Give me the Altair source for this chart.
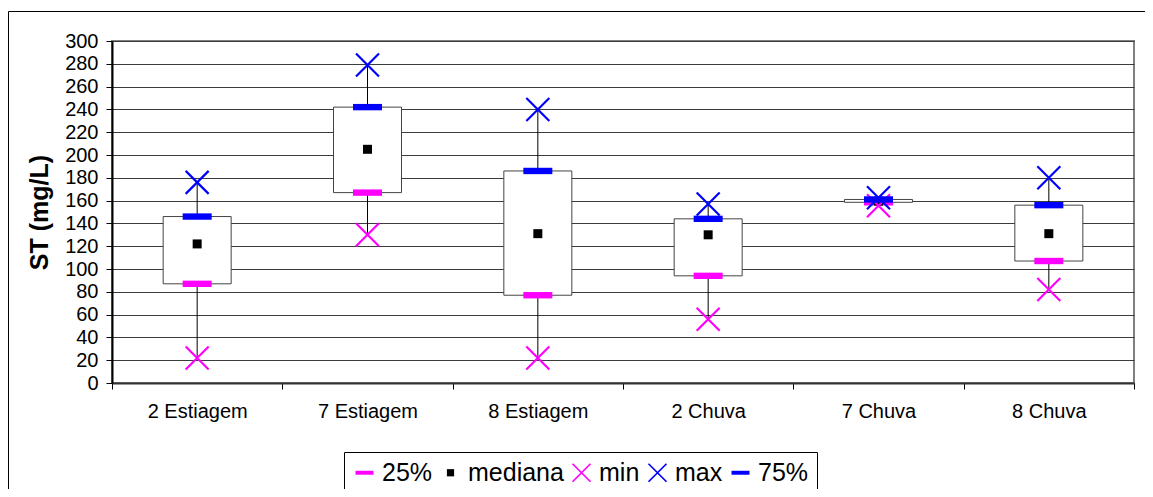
import altair as alt
import pandas as pd

categories = ["2 Estiagem", "7 Estiagem", "8 Estiagem", "2 Chuva", "7 Chuva", "8 Chuva"]
p25 = [87, 167, 77, 94, 158.5, 107]
mediana = [122, 205, 131, 130, 159.5, 131]
vmin = [22, 130, 22, 56, 155.5, 82]
vmax = [176, 279, 240, 157, 162.5, 180]
p75 = [146, 242, 186, 144, 161, 156]
series_names = ["25%", "mediana", "min", "max", "75%"]
y_ticks = [0, 20, 40, 60, 80, 100, 120, 140, 160, 180, 200, 220, 240, 260, 280, 300]

W, H = 1022, 342
FONT = "Liberation Sans"

box_df = pd.DataFrame({"cat": categories, "p25": p25, "p75": p75, "vmin": vmin, "vmax": vmax})

rows = []
for name, vals in zip(series_names, [p25, mediana, vmin, vmax, p75]):
    for c, v in zip(categories, vals):
        rows.append({"cat": c, "series": name, "value": v})
pts_df = pd.DataFrame(rows)

DASH = "M-1,-0.22L1,-0.22L1,0.22L-1,0.22Z"
SQUARE = "M-0.4,-0.4L0.4,-0.4L0.4,0.4L-0.4,0.4Z"
XSHAPE = ("M-0.933,-1.067L1.067,0.933L0.933,1.067L-1.067,-0.933Z"
          "M-0.933,1.067L-1.067,0.933L0.933,-1.067L1.067,-0.933Z")
marker_sizes = {"25%": 841, "mediana": 506, "min": 529, "max": 529, "75%": 841}

xaxis = alt.Axis(title=None, labelAngle=0, tickBand="extent", tickSize=6,
                 tickColor="#000", domainColor="#333", domainWidth=2,
                 labelFontSize=20, labelFont=FONT, labelColor="#000",
                 labelPadding=12, grid=False)
xscale = alt.Scale(paddingInner=0, paddingOuter=0)
yscale = alt.Scale(domain=[0, 300], nice=False, zero=True)
yaxis = alt.Axis(title="ST (mg/L)", values=y_ticks, grid=True, gridColor="#3c3c3c",
                 gridWidth=1, tickSize=6, tickColor="#000", domainColor="#000",
                 domainWidth=2, labelFontSize=20, labelFont=FONT, labelColor="#000",
                 labelPadding=8, labelOverlap=False, labelBound=False,
                 titleFont=FONT, titleFontSize=25, titleFontWeight="bold",
                 titleColor="#000", titlePadding=12)


def X():
    return alt.X("cat:N", sort=categories, scale=xscale, axis=xaxis)


def Y(field):
    return alt.Y(field, scale=yscale, axis=yaxis)


color_scale = alt.Scale(domain=series_names,
                        range=["#FF00FF", "#000000", "#FF00FF", "#0000FF", "#0000FF"])
shape_scale = alt.Scale(domain=series_names, range=[DASH, SQUARE, XSHAPE, XSHAPE, DASH])
legend = alt.Legend(title=None, orient="none", legendX=232, legendY=411,
                    direction="horizontal", columns=5,
                    strokeColor="#000", fillColor="#fff", padding=8,
                    labelFontSize=25, labelFont=FONT, labelColor="#000",
                    symbolSize=324, columnPadding=5, labelOffset=5,
                    symbolStrokeWidth=0)

frame = alt.Chart(pd.DataFrame({"a": [0]})).mark_rect(
    fill=None, stroke="#000", strokeWidth=1
).encode(x=alt.value(-103.5), x2=alt.value(1300), y=alt.value(-29.5), y2=alt.value(700))

whisk = alt.Chart(box_df).mark_rule(color="#000", strokeWidth=1).encode(
    x=X(), y=Y("vmin:Q"), y2="vmax:Q")

boxes = alt.Chart(box_df).mark_bar(size=68, fill="#fff", stroke="#444", strokeWidth=1).encode(
    x=X(), y=Y("p25:Q"), y2="p75:Q")

marker_layers = []
for name in series_names:
    marker_layers.append(
        alt.Chart(pts_df).transform_filter(alt.datum.series == name)
        .mark_point(filled=True, opacity=1, strokeWidth=0, size=marker_sizes[name])
        .encode(
            x=X(),
            y=Y("value:Q"),
            color=alt.Color("series:N", scale=color_scale, legend=legend),
            shape=alt.Shape("series:N", scale=shape_scale, legend=legend),
        )
    )

chart = alt.layer(frame, whisk, boxes, *marker_layers).properties(
    width=W, height=H,
    autosize=alt.AutoSizeParams(type="none"),
    padding={"left": 104, "top": 33, "right": 11, "bottom": 106},
    background="#ffffff",
).configure_view(stroke="#808080", strokeWidth=2)

chart.save("out.html", embed_options={"renderer": "svg", "actions": False})
